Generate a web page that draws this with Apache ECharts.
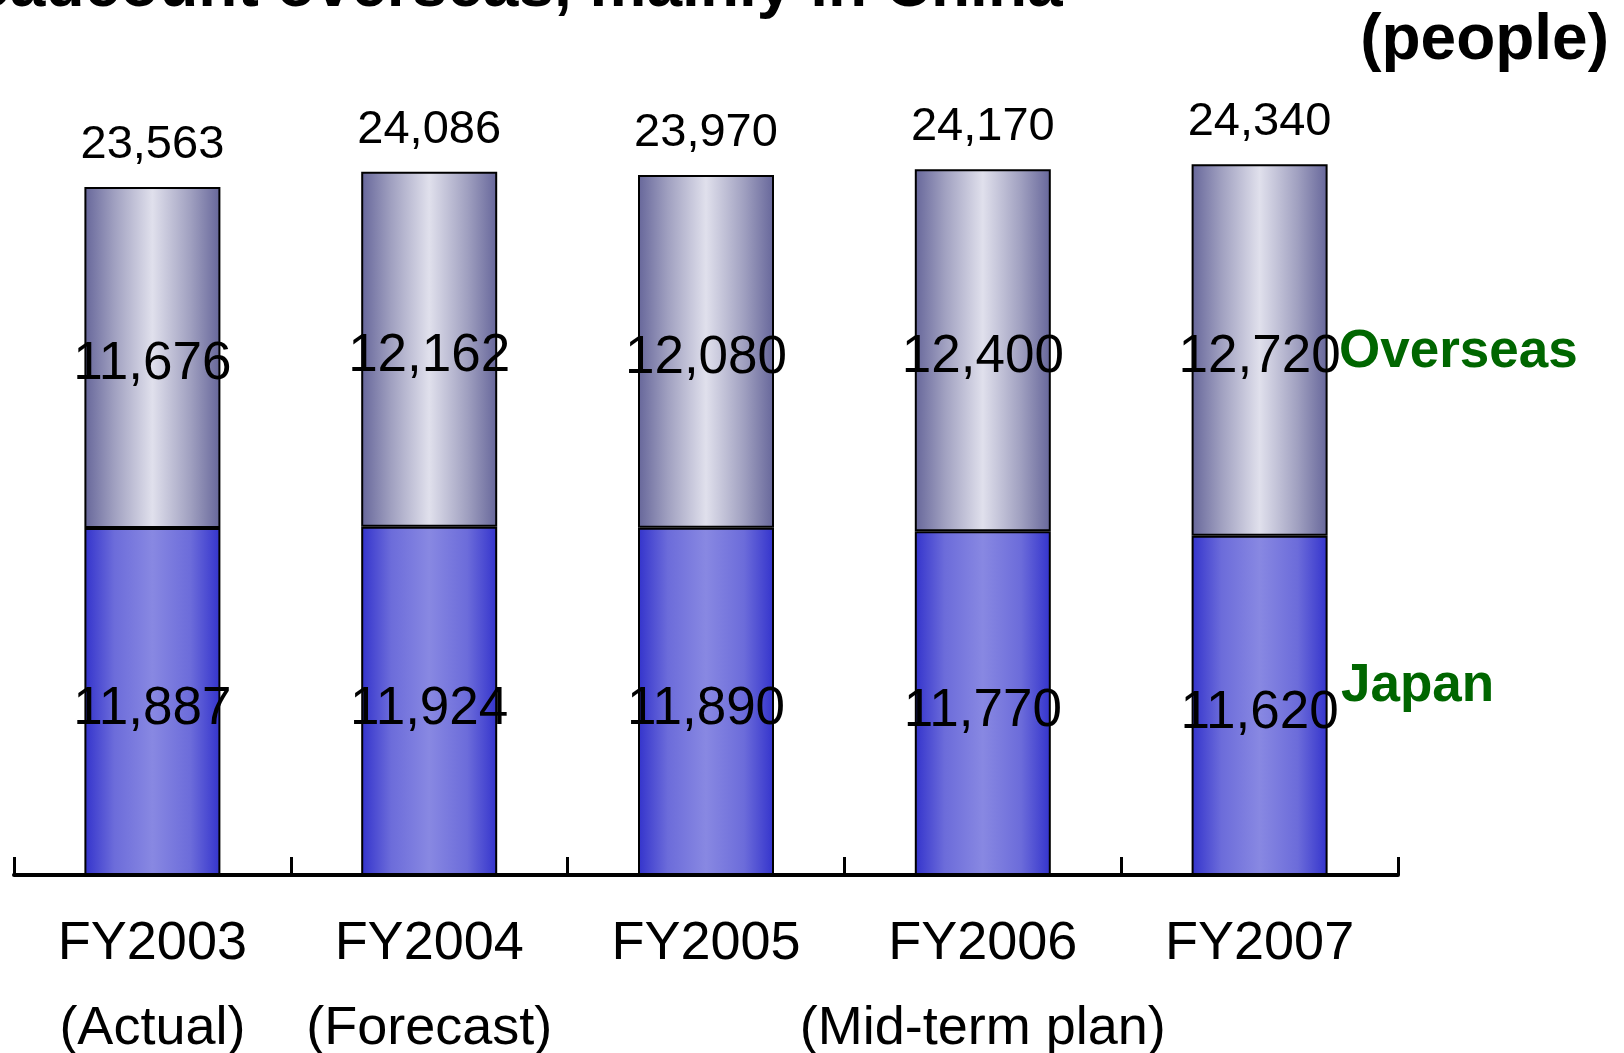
<!DOCTYPE html>
<html>
<head>
<meta charset="utf-8">
<script src="https://cdn.jsdelivr.net/npm/echarts@6/dist/echarts.min.js"></script>
<style>
  html, body { margin: 0; padding: 0; background: #fff; }
  #chart { width: 1624px; height: 1053px; }
</style>
</head>
<body>
<div id="chart"></div>
<script>
// Fiscal years and their status notes
var years = ['FY2003', 'FY2004', 'FY2005', 'FY2006', 'FY2007'];
var yearNotes = ['(Actual)', '(Forecast)', '', '(Mid-term plan)', ''];

// Headcount (people)
var japan = [11887, 11924, 11890, 11770, 11620];
var overseas = [11676, 12162, 12080, 12400, 12720];

var totals = japan.map(function (v, i) { return v + overseas[i]; });

var FONT = 'Arial, "Liberation Sans", Helvetica, sans-serif';
var fmt = function (v) { return Number(v).toLocaleString('en-US'); };

function cylinder(edge, mid, centre) {
  return new echarts.graphic.LinearGradient(0, 0, 1, 0, [
    { offset: 0, color: edge },
    { offset: 0.22, color: mid },
    { offset: 0.5, color: centre },
    { offset: 0.78, color: mid },
    { offset: 1, color: edge }
  ]);
}

var chart = echarts.init(document.getElementById('chart'), null, { renderer: 'canvas' });

chart.setOption({
  backgroundColor: '#ffffff',
  animation: false,
  grid: { left: 14, right: 226, top: 145, bottom: 178, containLabel: false, outerBoundsMode: 'none' },
  xAxis: {
    type: 'category',
    data: years,
    boundaryGap: true,
    axisLine: { show: true, lineStyle: { color: '#000', width: 4 } },
    axisTick: { show: true, inside: true, length: 18, lineStyle: { color: '#000', width: 3 } },
    axisLabel: {
      interval: 0,
      margin: 27,
      color: '#000',
      fontFamily: FONT,
      fontSize: 54,
      lineHeight: 85,
      formatter: function (val, idx) {
        return yearNotes[idx] ? val + '\n' + yearNotes[idx] : val;
      }
    }
  },
  yAxis: {
    type: 'value',
    min: 0,
    max: 25000,
    show: false,
    splitLine: { show: false }
  },
  series: [
    {
      name: 'Japan',
      type: 'bar',
      stack: 'headcount',
      barWidth: 136,
      data: japan,
      itemStyle: {
        color: cylinder('#3333cc', '#6c6cda', '#8888e2'),
        borderColor: '#000',
        borderWidth: 2
      },
      label: {
        show: true,
        position: 'inside',
        offset: [0, 8],
        color: '#000',
        fontFamily: FONT,
        fontSize: 53,
        formatter: function (p) { return fmt(p.value); }
      }
    },
    {
      name: 'Overseas',
      type: 'bar',
      stack: 'headcount',
      barWidth: 136,
      data: overseas,
      itemStyle: {
        color: cylinder('#66669a', '#a0a0c0', '#e0e0ec'),
        borderColor: '#000',
        borderWidth: 2
      },
      label: {
        show: true,
        position: 'inside',
        offset: [0, 7],
        color: '#000',
        fontFamily: FONT,
        fontSize: 53,
        formatter: function (p) { return fmt(p.value); }
      }
    },
    {
      name: 'Total',
      type: 'scatter',
      data: totals,
      symbolSize: 1,
      itemStyle: { color: 'rgba(0,0,0,0)', opacity: 1 },
      label: {
        show: true,
        position: 'top',
        distance: 18,
        color: '#000',
        fontFamily: FONT,
        fontSize: 47,
        formatter: function (p) { return fmt(p.value); }
      },
      z: 5
    }
  ],
  graphic: [
    {
      type: 'text',
      left: -72, top: -44,
      style: {
        text: 'Headcount overseas, mainly in China',
        fill: '#000',
        font: 'bold 64px ' + FONT
      }
    },
    {
      type: 'text',
      x: 1609, y: 41,
      style: {
        text: '(people)',
        fill: '#000',
        font: 'bold 64px ' + FONT,
        align: 'right',
        verticalAlign: 'middle'
      }
    },
    {
      type: 'text',
      x: 1339, y: 352,
      style: {
        text: 'Overseas',
        fill: '#006600',
        font: 'bold 53px ' + FONT,
        align: 'left',
        verticalAlign: 'middle',
        textShadowColor: '#b8b8b8',
        textShadowOffsetX: 2,
        textShadowOffsetY: 2,
        textShadowBlur: 0
      }
    },
    {
      type: 'text',
      x: 1341, y: 686,
      style: {
        text: 'Japan',
        fill: '#006600',
        font: 'bold 53px ' + FONT,
        align: 'left',
        verticalAlign: 'middle',
        textShadowColor: '#b8b8b8',
        textShadowOffsetX: 2,
        textShadowOffsetY: 2,
        textShadowBlur: 0
      }
    }
  ]
});
</script>
</body>
</html>
